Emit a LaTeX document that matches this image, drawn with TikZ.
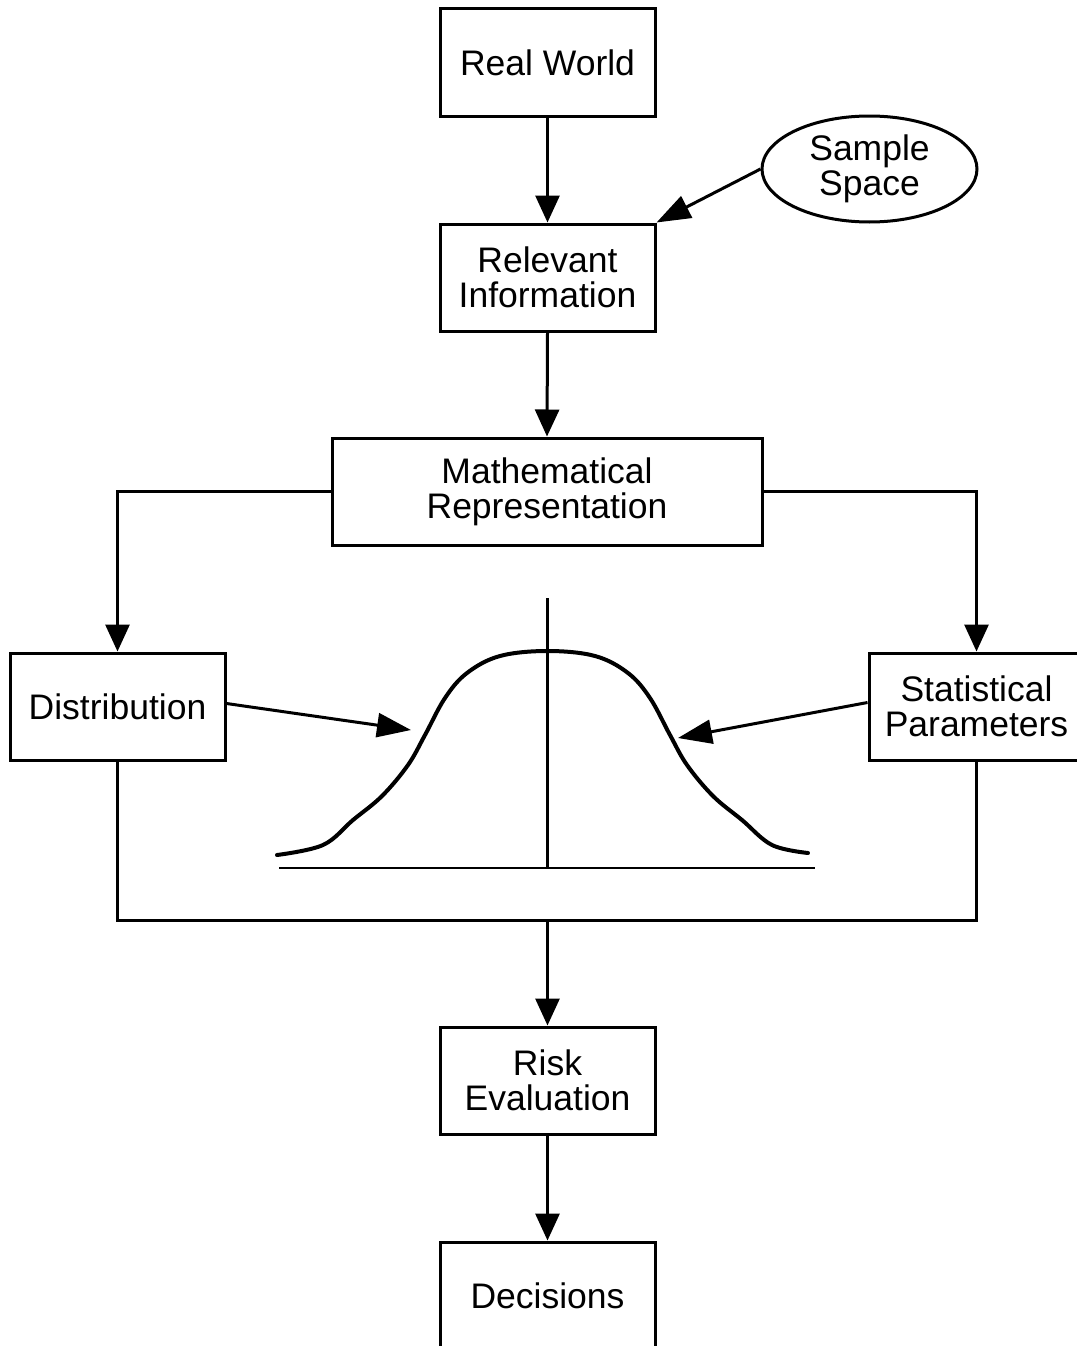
\documentclass[tikz,border=0pt]{standalone}
\usepackage{fontspec}
\setmainfont{Liberation Sans}
\usetikzlibrary{arrows.meta,shapes.geometric}
\begin{document}
\begin{tikzpicture}[x=1pt,y=-1pt,
  box/.style={draw,line width=3pt,minimum width=215pt,minimum height=107pt,inner sep=0pt,align=center,
    font=\fontsize{35.5}{35}\selectfont},
  oval/.style={draw,ellipse,line width=3pt,minimum width=215pt,minimum height=106pt,inner sep=0pt,align=center,
    font=\fontsize{35.5}{35}\selectfont},
  conn/.style={line width=3pt},
  vtip/.style={-{Triangle[width=24pt,length=27pt]}},
  stip/.style={-{Triangle[width=24pt,length=34pt]}}]
\useasboundingbox (0,0) rectangle (1076,1346);
\node[box] (rw) at (547.5,62.5) {Real World};
\node[box] (ri) at (547.5,277.5) {Relevant\\Information};
\node[oval] (ss) at (869.5,169) {Sample\\Space};
\node[box,minimum width=430pt] (mr) at (547,491.5) {Mathematical\\Representation};
\node[box] (dist) at (117.5,706.5) {Distribution};
\node[box] (sp) at (976.5,706.5) {Statistical\\Parameters};
\node[box] (re) at (547.5,1080.5) {Risk\\Evaluation};
\node[box] (dec) at (547.5,1295.5) {Decisions};
\coordinate (j) at (547.5,920);
\coordinate (dtip) at (411,730);
\coordinate (ptip) at (678,738);
% connectors
\draw[conn,vtip] (rw.south) -- (ri.north);
\draw[conn,stip] (ss.west) -- (ri.north east);
\draw[conn,vtip] (ri.south) -- (mr.north);
\draw[conn,vtip] (mr.west) -| (dist.north);
\draw[conn,vtip] (mr.east) -| (sp.north);
\draw[conn] (dist.south) |- (j) -| (sp.south);
\draw[conn,vtip] (j) -- (re.north);
\draw[conn,vtip] (re.south) -- (dec.north);
\draw[conn,stip] ([yshift=3pt]dist.east) -- (dtip);
\draw[conn,stip] ([yshift=4pt]sp.west) -- (ptip);
% bell curve
\draw[line width=2.6pt] (547.5,598) -- (547.5,868);
\draw[line width=2.6pt] (279,868) -- (815,868);
\draw[line width=4pt,line cap=round] plot[smooth,tension=0.6] coordinates {
  (277,855) (323,845) (353,820) (382,796) (408,765) (425,735) (445,698) (467,673)
  (500,656) (547.5,651) (595,656) (628,673) (650,698) (670,735) (687,765)
  (713,796) (742,820) (772,845) (808,853)};
\end{tikzpicture}
\end{document}
